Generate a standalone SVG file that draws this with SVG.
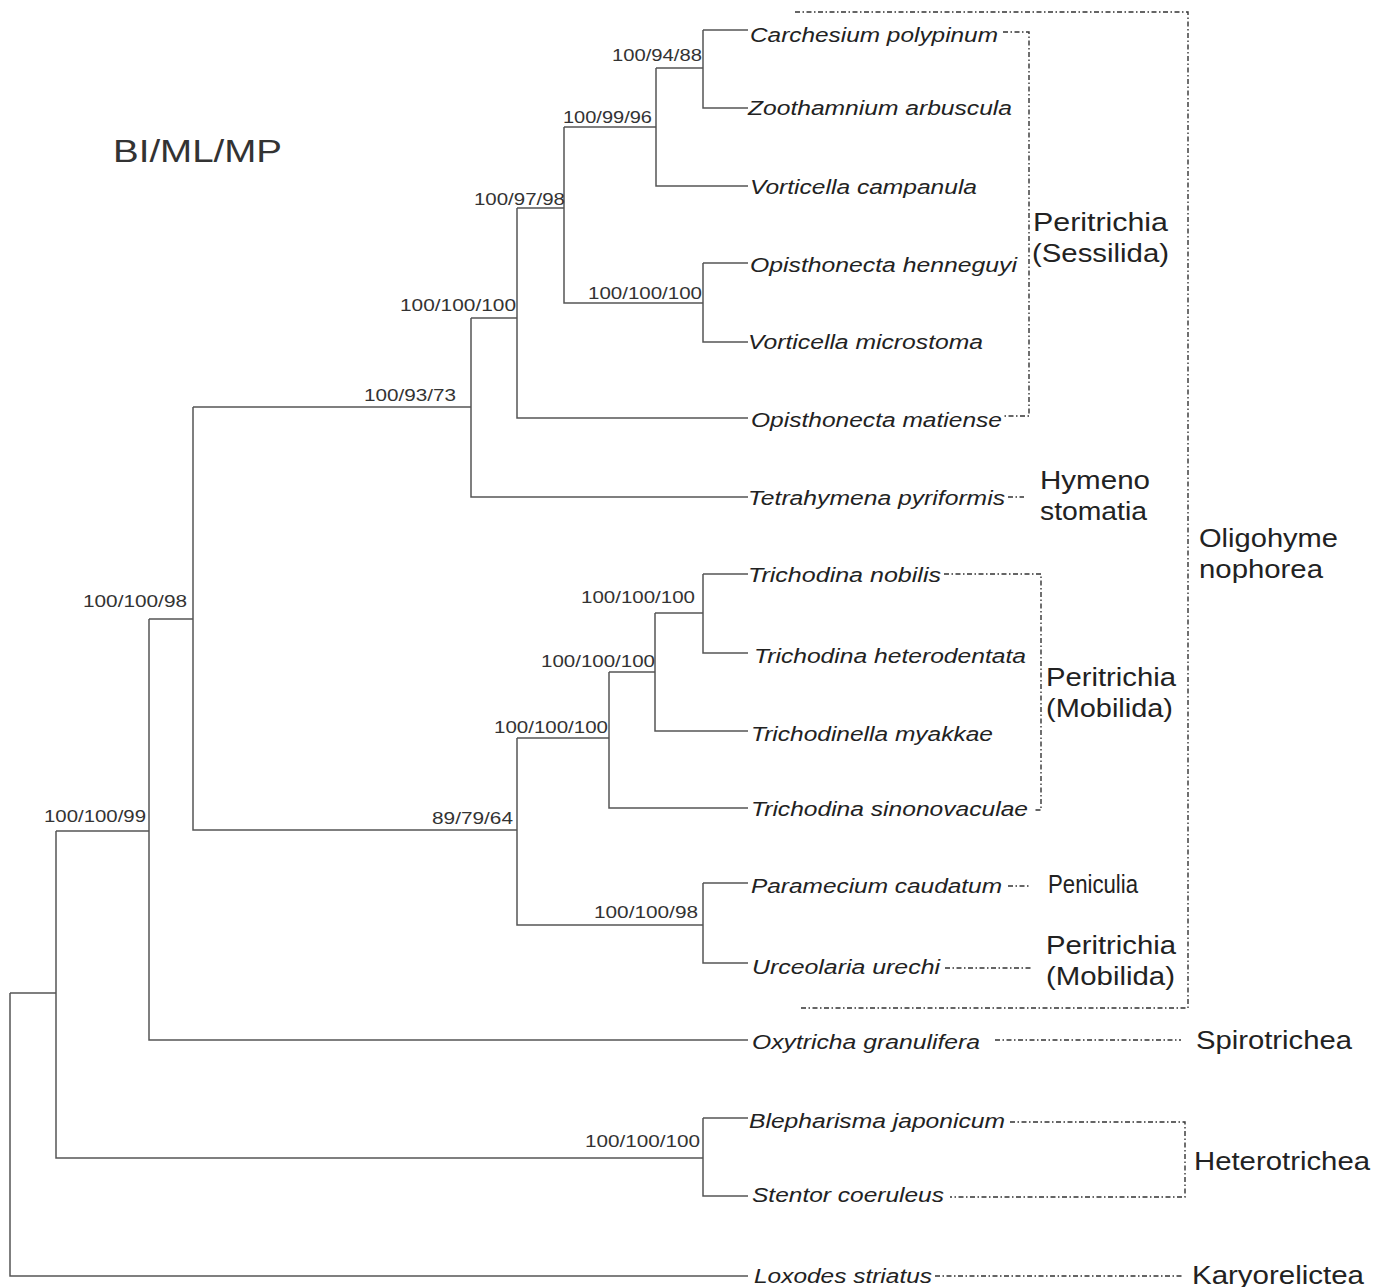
<svg xmlns="http://www.w3.org/2000/svg" width="1385" height="1287" viewBox="0 0 1385 1287">
<style>
.br{fill:none;stroke:#555;stroke-width:1.5}
.dd{fill:none;stroke:#333;stroke-width:1.4;stroke-dasharray:5 2.5 1.5 2.5}
.tx{font-family:"Liberation Sans",Arial,sans-serif;font-style:italic;font-size:20px;fill:#222}
.bs{font-family:"Liberation Sans",Arial,sans-serif;font-size:17px;fill:#333}
.gl{font-family:"Liberation Sans",Arial,sans-serif;font-size:25px;fill:#222}
.ti{font-family:"Liberation Sans",Arial,sans-serif;font-size:32px;fill:#333}
</style>
<rect width="1385" height="1287" fill="#fff"/>
<text class="ti" x="113" y="162" textLength="169" lengthAdjust="spacingAndGlyphs">BI/ML/MP</text>

<g id="connectors">
<path class="br" d="M10,993 V1276 H748 M10,993 H56"/>
<path class="br" d="M56,831 V1158 H703 M56,831 H149"/>
<path class="br" d="M149,619 V1040 H748 M149,619 H193"/>
<path class="br" d="M193,407 V830 H517 M193,407 H471"/>
<path class="br" d="M471,318 V497 H748 M471,318 H517"/>
<path class="br" d="M517,208 V418 H748 M517,208 H564"/>
<path class="br" d="M564,127 V303 H703 M564,127 H656"/>
<path class="br" d="M656,68 V186 H748 M656,68 H703"/>
<path class="br" d="M703,30 V108 H748 M703,30 H748"/>
<path class="br" d="M703,263 V342 H748 M703,263 H748"/>
<path class="br" d="M517,738 V925 H703 M517,738 H609"/>
<path class="br" d="M609,672 V808 H748 M609,672 H655"/>
<path class="br" d="M655,613 V731 H748 M655,613 H703"/>
<path class="br" d="M703,574 V653 H748 M703,574 H748"/>
<path class="br" d="M703,883 V963 H748 M703,883 H748"/>
<path class="br" d="M703,1118 V1196 H748 M703,1118 H748"/>
</g>

<g id="supports">
<text class="bs" x="612" y="61" textLength="90" lengthAdjust="spacingAndGlyphs">100/94/88</text>
<text class="bs" x="563" y="123" textLength="89" lengthAdjust="spacingAndGlyphs">100/99/96</text>
<text class="bs" x="474" y="205" textLength="91" lengthAdjust="spacingAndGlyphs">100/97/98</text>
<text class="bs" x="400" y="311" textLength="116" lengthAdjust="spacingAndGlyphs">100/100/100</text>
<text class="bs" x="588" y="299" textLength="114" lengthAdjust="spacingAndGlyphs">100/100/100</text>
<text class="bs" x="364" y="401" textLength="92" lengthAdjust="spacingAndGlyphs">100/93/73</text>
<text class="bs" x="83" y="607" textLength="104" lengthAdjust="spacingAndGlyphs">100/100/98</text>
<text class="bs" x="44" y="822" textLength="102" lengthAdjust="spacingAndGlyphs">100/100/99</text>
<text class="bs" x="581" y="603" textLength="114" lengthAdjust="spacingAndGlyphs">100/100/100</text>
<text class="bs" x="541" y="667" textLength="114" lengthAdjust="spacingAndGlyphs">100/100/100</text>
<text class="bs" x="494" y="733" textLength="114" lengthAdjust="spacingAndGlyphs">100/100/100</text>
<text class="bs" x="432" y="824" textLength="81" lengthAdjust="spacingAndGlyphs">89/79/64</text>
<text class="bs" x="594" y="918" textLength="104" lengthAdjust="spacingAndGlyphs">100/100/98</text>
<text class="bs" x="585" y="1147" textLength="115" lengthAdjust="spacingAndGlyphs">100/100/100</text>
</g>

<g id="taxon-carchesium"><text class="tx" x="750" y="42" textLength="248" lengthAdjust="spacingAndGlyphs">Carchesium polypinum</text></g>
<g id="taxon-zoothamnium"><text class="tx" x="748" y="115" textLength="264" lengthAdjust="spacingAndGlyphs">Zoothamnium arbuscula</text></g>
<g id="taxon-vorticella-campanula"><text class="tx" x="750" y="194" textLength="227" lengthAdjust="spacingAndGlyphs">Vorticella campanula</text></g>
<g id="taxon-opisthonecta-henneguyi"><text class="tx" x="750" y="272" textLength="267" lengthAdjust="spacingAndGlyphs">Opisthonecta henneguyi</text></g>
<g id="taxon-vorticella-microstoma"><text class="tx" x="748" y="349" textLength="235" lengthAdjust="spacingAndGlyphs">Vorticella microstoma</text></g>
<g id="taxon-opisthonecta-matiense"><text class="tx" x="751" y="427" textLength="251" lengthAdjust="spacingAndGlyphs">Opisthonecta matiense</text></g>
<g id="taxon-tetrahymena"><text class="tx" x="748" y="505" textLength="257" lengthAdjust="spacingAndGlyphs">Tetrahymena pyriformis</text></g>
<g id="taxon-trichodina-nobilis"><text class="tx" x="748" y="582" textLength="193" lengthAdjust="spacingAndGlyphs">Trichodina nobilis</text></g>
<g id="taxon-trichodina-heterodentata"><text class="tx" x="754" y="663" textLength="272" lengthAdjust="spacingAndGlyphs">Trichodina heterodentata</text></g>
<g id="taxon-trichodinella"><text class="tx" x="751" y="741" textLength="242" lengthAdjust="spacingAndGlyphs">Trichodinella myakkae</text></g>
<g id="taxon-trichodina-sinonovaculae"><text class="tx" x="751" y="816" textLength="277" lengthAdjust="spacingAndGlyphs">Trichodina sinonovaculae</text></g>
<g id="taxon-paramecium"><text class="tx" x="751" y="893" textLength="251" lengthAdjust="spacingAndGlyphs">Paramecium caudatum</text></g>
<g id="taxon-urceolaria"><text class="tx" x="752" y="974" textLength="188" lengthAdjust="spacingAndGlyphs">Urceolaria urechi</text></g>
<g id="taxon-oxytricha"><text class="tx" x="752" y="1049" textLength="228" lengthAdjust="spacingAndGlyphs">Oxytricha granulifera</text></g>
<g id="taxon-blepharisma"><text class="tx" x="749" y="1128" textLength="256" lengthAdjust="spacingAndGlyphs">Blepharisma japonicum</text></g>
<g id="taxon-stentor"><text class="tx" x="752" y="1202" textLength="192" lengthAdjust="spacingAndGlyphs">Stentor coeruleus</text></g>
<g id="taxon-loxodes"><text class="tx" x="754" y="1283" textLength="178" lengthAdjust="spacingAndGlyphs">Loxodes striatus</text></g>

<g id="group-oligohymenophorea">
<path class="dd" d="M795,12 H1188 V1008 H800"/>
<text class="gl" x="1199" y="547" textLength="139" lengthAdjust="spacingAndGlyphs">Oligohyme</text>
<text class="gl" x="1199" y="578" textLength="124" lengthAdjust="spacingAndGlyphs">nophorea</text>
</g>
<g id="group-sessilida">
<path class="dd" d="M1003,32 H1029 V416 H1003"/>
<text class="gl" x="1033" y="231" textLength="135" lengthAdjust="spacingAndGlyphs">Peritrichia</text>
<text class="gl" x="1032" y="262" textLength="137" lengthAdjust="spacingAndGlyphs">(Sessilida)</text>
</g>
<g id="group-hymenostomatia">
<path class="dd" d="M1008,497 H1024"/>
<text class="gl" x="1040" y="489" textLength="110" lengthAdjust="spacingAndGlyphs">Hymeno</text>
<text class="gl" x="1040" y="520" textLength="107" lengthAdjust="spacingAndGlyphs">stomatia</text>
</g>
<g id="group-mobilida">
<path class="dd" d="M944,574 H1041 V810 H1033"/>
<text class="gl" x="1046" y="686" textLength="130" lengthAdjust="spacingAndGlyphs">Peritrichia</text>
<text class="gl" x="1046" y="717" textLength="127" lengthAdjust="spacingAndGlyphs">(Mobilida)</text>
</g>
<g id="group-peniculia">
<path class="dd" d="M1008,886 H1030"/>
<text class="gl" x="1048" y="893" textLength="90" lengthAdjust="spacingAndGlyphs">Peniculia</text>
</g>
<g id="group-mobilida-2">
<path class="dd" d="M945,968 H1032"/>
<text class="gl" x="1046" y="954" textLength="130" lengthAdjust="spacingAndGlyphs">Peritrichia</text>
<text class="gl" x="1046" y="985" textLength="129" lengthAdjust="spacingAndGlyphs">(Mobilida)</text>
</g>
<g id="group-spirotrichea">
<path class="dd" d="M995,1040 H1181"/>
<text class="gl" x="1196" y="1049" textLength="156" lengthAdjust="spacingAndGlyphs">Spirotrichea</text>
</g>
<g id="group-heterotrichea">
<path class="dd" d="M1010,1122 H1185 V1197 H950"/>
<text class="gl" x="1194" y="1170" textLength="176" lengthAdjust="spacingAndGlyphs">Heterotrichea</text>
</g>
<g id="group-karyorelictea">
<path class="dd" d="M935,1276 H1184"/>
<text class="gl" x="1192" y="1284" textLength="172" lengthAdjust="spacingAndGlyphs">Karyorelictea</text>
</g>
</svg>
